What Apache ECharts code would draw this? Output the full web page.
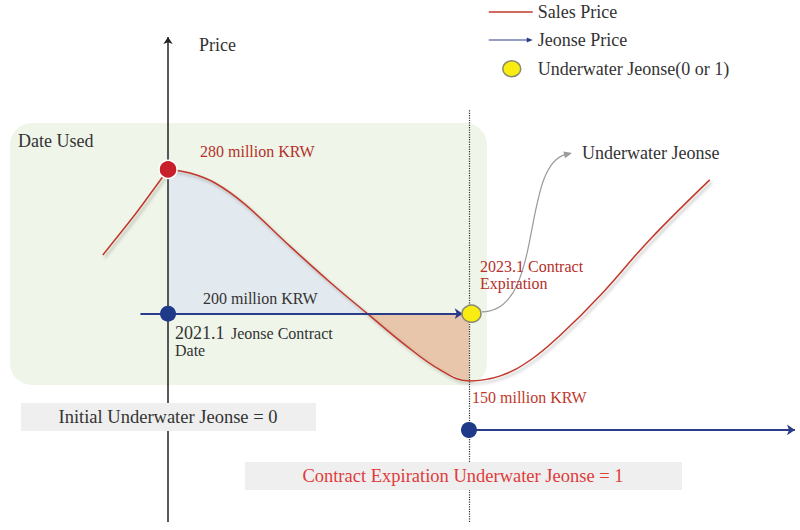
<!DOCTYPE html>
<html><head><meta charset="utf-8">
<script src="https://cdn.jsdelivr.net/npm/echarts@6/dist/echarts.min.js"></script>
<style>html,body{margin:0;padding:0;background:#fff}#chart{width:800px;height:530px}</style>
</head><body><div id="chart"></div>
<script>
// Time in months since 2021.1 (contract date); price in million KRW (schematic scale as drawn)
const salesMonths = [-5.2, -2.6, 0, 1.75, 3.75, 6.1, 9.7, 12.9, 15.9, 18.9, 21.7, 24, 26.5, 28.9, 31.3, 34.5, 38.4, 43.2];
const salesPrice  = [232.6, 255.3, 280, 278.0, 272.5, 260.9, 237.6, 217.6, 200, 182.7, 168.8, 162.7, 165.5, 174.3, 188.2, 210.4, 240.9, 274.2];
const contractMonth = 0;
const expiryMonth = 24;
const crossingMonth = 15.9;
const peakPrice = 280;
const jeonseInitial = 200;
const jeonseStartMonth = -2.2;
const jeonseArrowEndMonth = 23.5;
const jeonseNew = 135.5;
const newJeonseEndMonth = 50;
const underwaterMonth = 24.2;
const axisBottom = 84.5, axisTop = 353.5, dottedTop = 313;
const underwaterArrow = [[25.04, 201], [30.06, 201], [28.07, 282.5], [32.22, 289.1]];
const legendNames = ['Sales Price', 'Jeonse Price', 'Underwater Jeonse(0 or 1)'];

const FONT = '"Liberation Serif", "DejaVu Serif", serif';
const SMOOTH = 0.4;
const salesPts = salesMonths.map((m, i) => [m, salesPrice[i]]);
const risePts = salesPts.filter(p => p[0] <= contractMonth);
const afterPts = salesPts.filter(p => p[0] >= contractMonth);
const bluePts = salesPts.filter(p => p[0] >= contractMonth && p[0] <= crossingMonth);
const orangePts = salesPts.filter(p => p[0] >= crossingMonth && p[0] <= expiryMonth);

function txt(text, x, y, size, color, align) {
  return { type: 'text', x: x, y: y, z: 20,
    style: { text: text, fill: color || '#333', font: size + 'px ' + FONT, align: align || 'left', verticalAlign: 'middle' } };
}
const ANCH = 'M0,0L0,0M44,18L44,18';
const salesLine = { color: '#c0392b', width: 1.5, shadowColor: 'rgba(0,0,0,0.28)', shadowBlur: 3, shadowOffsetX: 2, shadowOffsetY: 2.5 };
const chart = echarts.init(document.getElementById('chart'), null, { renderer: 'svg' });
chart.setOption({
  animation: false,
  backgroundColor: '#fff',
  grid: { left: 0, right: 0, top: 0, bottom: 0 },
  xAxis: { type: 'value', min: -13.4, max: 50.4, show: false },
  yAxis: { type: 'value', min: 80, max: 374, show: false },
  legend: {
    orient: 'vertical', left: 488, top: 3, padding: 0, itemWidth: 44, itemHeight: 18, itemGap: 10,
    selectedMode: false, itemStyle: { borderWidth: 0 },
    textStyle: { fontFamily: FONT, fontSize: 18, color: '#333', lineHeight: 18 },
    data: [
      { name: legendNames[0], icon: 'path://' + ANCH + 'M0,8.3L44,8.3L44,9.7L0,9.7Z', itemStyle: { color: '#c0392b', borderWidth: 0 } },
      { name: legendNames[1], icon: 'path://' + ANCH + 'M0,8.4L38,8.4L38,6.5L44,9L38,11.5L38,9.6L0,9.6Z', itemStyle: { color: '#2b3d8a', borderWidth: 0 } },
      { name: legendNames[2], icon: 'path://' + ANCH + 'M14,9A9,8 0 1 1 32,9A9,8 0 1 1 14,9Z', itemStyle: { color: '#f8ec10', borderColor: '#8a8a70', borderWidth: 1.5 } }
    ]
  },
  graphic: [
    { type: 'rect', z: -10, shape: { x: 10, y: 123, width: 477, height: 262, r: 22 }, style: { fill: '#eff5e9' } },
    { type: 'rect', z: 15, shape: { x: 21, y: 403, width: 295, height: 28 }, style: { fill: '#efefef' } },
    { type: 'rect', z: 15, shape: { x: 245, y: 462, width: 437, height: 28 }, style: { fill: '#efefef' } },
    txt('Price', 199, 45, 18),
    txt('Date Used', 18, 141, 18),
    txt('280 million KRW', 200, 151, 16, '#b5302a'),
    txt('200 million KRW', 203, 298, 16),
    txt('2021.1', 175, 333, 18),
    txt('Jeonse Contract', 231, 333, 16),
    txt('Date', 175, 350, 16),
    txt('2023.1 Contract', 480, 266.5, 16, '#b5302a'),
    txt('Expiration', 480, 283, 16, '#b5302a'),
    txt('Underwater Jeonse', 582, 153, 18),
    txt('150 million KRW', 472, 397, 16, '#c0392b'),
    txt('Initial Underwater Jeonse = 0', 168, 417, 18.5, '#333', 'center'),
    txt('Contract Expiration Underwater Jeonse = 1', 463, 476, 18.5, '#e03b3b', 'center')
  ],
  series: [
    { type: 'line', name: 'gainArea', data: bluePts, smooth: SMOOTH, symbol: 'none', z: 1,
      lineStyle: { width: 0 }, areaStyle: { color: '#e3eaef', opacity: 1, origin: jeonseInitial } },
    { type: 'line', name: 'lossArea', data: orangePts, smooth: SMOOTH, symbol: 'none', z: 1,
      lineStyle: { width: 0 }, areaStyle: { color: '#e8c6ab', opacity: 1, origin: jeonseInitial } },
    { type: 'lines', name: 'axis', coordinateSystem: 'cartesian2d', z: 2,
      symbol: ['none', 'arrow'], symbolSize: 7,
      lineStyle: { color: '#222', width: 1.5, opacity: 1, curveness: 0 },
      data: [{ coords: [[contractMonth, axisBottom], [contractMonth, axisTop]] }] },
    { type: 'lines', name: 'expiryLine', coordinateSystem: 'cartesian2d', z: 2, symbol: 'none',
      lineStyle: { color: '#333', width: 1.2, type: 'dotted', opacity: 1 },
      data: [{ coords: [[expiryMonth, axisBottom], [expiryMonth, dottedTop]] }] },
    { type: 'line', name: legendNames[0], data: risePts, smooth: 0.2, symbol: 'none', z: 3, lineStyle: salesLine },
    { type: 'line', name: legendNames[0], data: afterPts, smooth: SMOOTH, symbol: 'none', z: 3, lineStyle: salesLine },
    { type: 'lines', name: legendNames[1], coordinateSystem: 'cartesian2d', z: 4,
      symbol: ['none', 'arrow'], symbolSize: 8,
      lineStyle: { color: '#2b3d8a', width: 2, opacity: 1 },
      data: [
        { coords: [[jeonseStartMonth, jeonseInitial], [jeonseArrowEndMonth, jeonseInitial]] },
        { coords: [[expiryMonth, jeonseNew], [newJeonseEndMonth, jeonseNew]] }
      ] },
    { type: 'custom', name: 'underwaterArrow', z: 4, clip: false,
      data: [underwaterArrow.flat()],
      renderItem: function (params, api) {
        const p = [0, 1, 2, 3].map(i => api.coord([api.value(2 * i), api.value(2 * i + 1)]));
        const dx = p[3][0] - p[2][0], dy = p[3][1] - p[2][1];
        const len = Math.sqrt(dx * dx + dy * dy) || 1;
        const ux = dx / len, uy = dy / len, nx = -uy, ny = ux;
        const bx = p[3][0] - ux * 8, by = p[3][1] - uy * 8;
        return { type: 'group', children: [
          { type: 'bezierCurve', shape: { x1: p[0][0], y1: p[0][1], cpx1: p[1][0], cpy1: p[1][1], cpx2: p[2][0], cpy2: p[2][1], x2: bx + ux * 2, y2: by + uy * 2 },
            style: { stroke: '#9a9a9a', lineWidth: 1.2, fill: null } },
          { type: 'polygon', shape: { points: [[p[3][0], p[3][1]], [bx + nx * 3.5, by + ny * 3.5], [bx - nx * 3.5, by - ny * 3.5]] },
            style: { fill: '#9a9a9a' } }
        ] };
      } },
    { type: 'scatter', name: 'peak', data: [[contractMonth, peakPrice]], symbolSize: 18, z: 6,
      itemStyle: { color: '#c8202a', borderColor: '#ffffff', borderWidth: 1.5, opacity: 1 } },
    { type: 'scatter', name: 'jeonseDots', data: [[contractMonth, jeonseInitial], [expiryMonth, jeonseNew]], symbolSize: 16, z: 6,
      itemStyle: { color: '#1f3a88', opacity: 1 } },
    { type: 'scatter', name: legendNames[2], data: [[underwaterMonth, jeonseInitial]], symbolSize: [19, 17], z: 6,
      itemStyle: { color: '#f8ec10', borderColor: '#8a8a70', borderWidth: 1.5, opacity: 1 } }
  ]
});
</script></body></html>
